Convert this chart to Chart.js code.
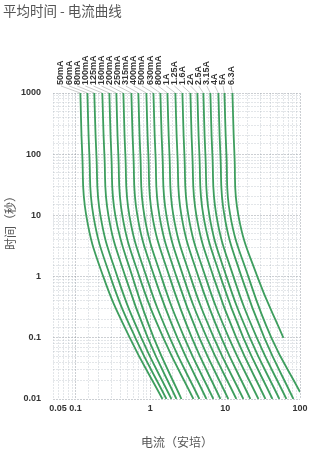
<!DOCTYPE html>
<html lang="zh-CN">
<head>
<meta charset="UTF-8">
<title>平均时间 - 电流曲线</title>
<script src="https://cdn.jsdelivr.net/npm/chart.js@4.4.1/dist/chart.umd.min.js"></script>
<style>
  html, body { margin: 0; padding: 0; background: #fff; }
  #wrap { position: relative; width: 325px; height: 473px; }
</style>
</head>
<body>
<div id="wrap"><canvas id="chart" width="325" height="473"></canvas></div>
<script>
// fuse ratings, one curve each
const ratings = ['50mA', '60mA', '80mA', '100mA', '125mA', '160mA', '200mA', '250mA', '315mA',
  '400mA', '500mA', '630mA', '800mA', '1A', '1.25A', '1.6A', '2A', '2.5A', '3.15A', '4A', '5A', '6.3A']

// times (s) at which the currents below were read
const times = [1000, 100, 10, 1, 0.1, 0.01]

// current (A) of each curve at the times above
const curveCurrents = [
  [0.116, 0.123, 0.139, 0.235, 0.532, 1.45],
  [0.144, 0.153, 0.173, 0.292, 0.630, 1.64],
  [0.178, 0.190, 0.215, 0.362, 0.758, 1.91],
  [0.228, 0.243, 0.275, 0.463, 0.926, 2.23],
  [0.283, 0.301, 0.340, 0.575, 1.11, 2.60],
  [0.351, 0.373, 0.422, 0.713, 1.49, 3.76],
  [0.436, 0.463, 0.524, 0.884, 1.82, 4.52],
  [0.557, 0.593, 0.670, 1.13, 2.30, 5.61],
  [0.691, 0.735, 0.831, 1.40, 2.85, 6.95],
  [0.884, 0.940, 1.06, 1.80, 3.59, 8.63],
  [1.10, 1.17, 1.32, 2.23, 4.52, 11.0],
  [1.36, 1.45, 1.64, 2.76, 5.69, 14.1],
  [1.69, 1.80, 2.03, 3.43, 7.06, 17.5],
  [2.16, 2.30, 2.60, 4.38, 8.90, 21.7],
  [2.68, 2.85, 3.22, 5.44, 11.2, 27.8],
  [3.43, 3.64, 4.12, 6.95, 14.1, 34.5],
  [4.25, 4.52, 5.11, 8.63, 17.5, 42.8],
  [5.11, 5.44, 6.15, 10.4, 21.4, 53.0],
  [6.34, 6.74, 7.63, 12.9, 26.5, 65.8],
  [8.11, 8.63, 9.76, 16.5, 33.4, 81.6],
  [9.76, 10.4, 11.7, 20.4, 41.5, 100],
  [12.5, 13.3, 15.0, 26.9, 60.0]
]

// time of the last point of each curve (the two right ones stop early)
const lastTimes = [0.01, 0.01, 0.01, 0.01, 0.01, 0.01, 0.01, 0.01, 0.01, 0.01, 0.01,
  0.01, 0.01, 0.01, 0.01, 0.01, 0.01, 0.01, 0.01, 0.01, 0.013, 0.1]

const xTickLabels = [0.05, 0.1, 1, 10, 100]
const yTickLabels = [1000, 100, 10, 1, 0.1, 0.01]

const GREEN = '#3e9e5e'
const TEXT = '#333'

const datasets = ratings.map((name, k) => ({
  label: name,
  data: curveCurrents[k].map((c, i) => ({
    x: c,
    y: i === curveCurrents[k].length - 1 ? lastTimes[k] : times[i]
  })),
  borderColor: GREEN,
  borderWidth: 1.8,
  pointRadius: 0,
  fill: false,
  tension: 0.45
}))

function isDecade(v) {
  const l = Math.log10(v)
  return Math.abs(l - Math.round(l)) < 1e-6
}

function gridColor(ctx) {
  const v = ctx.tick && ctx.tick.value
  return v && isDecade(v) ? 'rgba(120,130,140,0.55)' : 'rgba(150,160,170,0.38)'
}

// tick labels, titles and rating labels drawn by hand
const textPlugin = {
  id: 'texts',
  afterDraw(chart) {
    const { ctx, chartArea, scales } = chart
    const xs = scales.x, ys = scales.y
    ctx.save()

    ctx.fillStyle = TEXT
    ctx.font = 'bold 9px "Liberation Sans", Arial, sans-serif'
    ctx.textBaseline = 'middle'
    ctx.textAlign = 'right'
    yTickLabels.forEach(v => {
      ctx.fillText(String(v), chartArea.left - 12, ys.getPixelForValue(v))
    })
    ctx.textAlign = 'center'
    xTickLabels.forEach((v, i) => {
      const px = xs.getPixelForValue(v) + (i === 0 ? 5 : 0)
      ctx.fillText(String(v), px, chartArea.bottom + 10)
    })

    // rating labels with leader lines to the curve tops
    ratings.forEach((name, k) => {
      const topX = xs.getPixelForValue(curveCurrents[k][0])
      const lx = 61 + k * 8.1
      const ly = chartArea.top - 8
      ctx.strokeStyle = 'rgba(110,110,110,0.6)'
      ctx.lineWidth = 0.6
      ctx.beginPath()
      ctx.moveTo(lx, ly + 1)
      ctx.lineTo(topX, chartArea.top)
      ctx.stroke()
      ctx.save()
      ctx.translate(lx, ly)
      ctx.rotate(-Math.PI / 2)
      ctx.textAlign = 'left'
      ctx.textBaseline = 'middle'
      ctx.fillText(name, 0, 0)
      ctx.restore()
    })

    ctx.fillStyle = '#555'
    ctx.font = '13.5px "Noto Sans CJK SC", sans-serif'
    ctx.textAlign = 'left'
    ctx.fillText('平均时间 - 电流曲线', 3, 11)

    ctx.font = '12px "Noto Sans CJK SC", sans-serif'
    ctx.textAlign = 'center'
    ctx.fillText('电流（安培）', 177, 442)

    ctx.save()
    ctx.translate(10, 220)
    ctx.rotate(-Math.PI / 2)
    ctx.fillText('时间（秒）', 0, 0)
    ctx.restore()

    ctx.restore()
  }
}

new Chart(document.getElementById('chart'), {
  type: 'line',
  data: { datasets },
  options: {
    responsive: false,
    animation: false,
    layout: { padding: { top: 93, right: 25, left: 0, bottom: 0 } },
    plugins: { legend: { display: false }, tooltip: { enabled: false } },
    scales: {
      x: {
        type: 'logarithmic',
        min: 0.05,
        max: 100,
        ticks: { display: false },
        grid: { color: gridColor, lineWidth: 0.7, drawTicks: false },
        border: { display: false, dash: [2, 1] },
        afterFit: s => { s.height = 74 }
      },
      y: {
        type: 'logarithmic',
        min: 0.01,
        max: 1000,
        ticks: { display: false },
        grid: { color: gridColor, lineWidth: 0.7, drawTicks: false },
        border: { display: false, dash: [2, 1] },
        afterFit: s => { s.width = 53 }
      }
    }
  },
  plugins: [textPlugin]
})
</script>
</body>
</html>
